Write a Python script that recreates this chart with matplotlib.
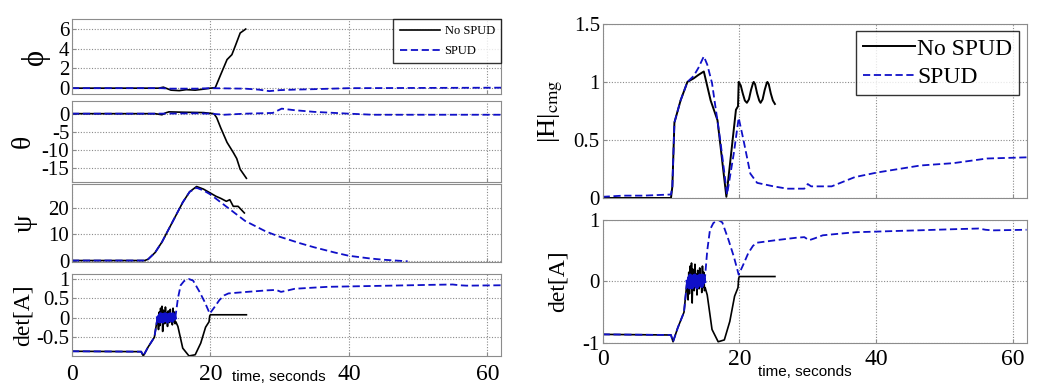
"""Attitude, CMG momentum and det[A] histories with and without SPUD."""

import matplotlib

matplotlib.use("Agg")

import matplotlib.pyplot as plt
from matplotlib.ticker import FuncFormatter

plt.rcParams["font.family"] = ["Liberation Serif", "DejaVu Serif"]
plt.rcParams["mathtext.fontset"] = "stix"
plt.rcParams["axes.unicode_minus"] = False

BLUE = "#1010c8"
GRID = "#8a8a8a"
SPINE = "#8c8c8c"
DASH = (0, (4, 2))

# ---- roll angle phi
T_PHI_NS = [0, 12.5, 13.2, 14.3, 15.5, 16.5, 17.8, 19.0, 20.0, 20.7, 21.5, 22.4, 23.1, 23.6, 24.3, 25.1]
PHI_NS = [0, 0, 0.1, -0.2, -0.25, -0.15, -0.2, -0.1, 0, 0.05, 1.4, 2.9, 3.4, 4.3, 5.6, 6.0]
T_PHI_S = [0, 13, 14, 18, 20, 25, 27, 28.5, 30, 32, 35, 40, 62]
PHI_S = [0, 0, -0.05, -0.05, 0, -0.05, -0.15, -0.3, -0.2, -0.15, -0.1, 0, 0.05]

# ---- pitch angle theta
T_TH_NS = [0, 12.0, 13.0, 13.5, 14.0, 16.0, 19.0, 20.5, 20.9, 21.5, 22.4, 23.3, 23.8, 24.3, 25.2]
TH_NS = [0, 0, -0.3, 0.2, 0.5, 0.4, 0.3, 0, -1.1, -4, -8, -10.8, -12.5, -15.5, -18]
T_TH_S = [0, 12, 18, 20, 22, 25, 29, 30.3, 32, 35, 40, 43.5, 62]
TH_S = [0, 0, 0.1, 0, -0.3, 0, 0.2, 1.4, 1.0, 0.5, 0, -0.3, -0.3]

# ---- yaw angle psi
T_PSI_NS = [0, 10.5, 11, 12, 13, 14, 15, 16, 17, 18, 19, 20, 20.8, 21.5, 22.3, 22.8, 23.3, 24.0, 24.9]
PSI_NS = [0, 0, 0.5, 3, 7, 12, 17, 22, 26, 28, 27, 25.5, 24.3, 23.5, 22.4, 23, 20.5, 20.5, 18]
T_PSI_S = [0, 10.5, 11, 12, 13, 14, 15, 16, 17, 18, 19, 20, 22, 25, 28, 30, 33, 35, 38, 40, 43, 45, 48.5]
PSI_S = [0, 0, 0.5, 3, 7, 12, 17, 22, 26, 27.5, 26.5, 25, 21, 15, 11, 9, 6.5, 5, 3, 1.8, 0.8, 0.3, -0.3]

# ---- det[A] (shared by both det panels)
T_DET_PRE = [0, 10.0, 10.3, 11.0, 11.9, 12.3]
DET_PRE = [-0.86, -0.87, -0.98, -0.75, -0.5, -0.05]
T_DET_NOISE = [12.4, 12.5, 12.6, 12.7, 12.8, 12.9, 13.0, 13.1, 13.2, 13.3, 13.4, 13.5, 13.6,
               13.7, 13.8, 13.9, 14.0, 14.1, 14.2, 14.3, 14.4, 14.5, 14.6, 14.7, 14.8, 14.9]
DET_NOISE_NS = [0.0, -0.3, 0.15, -0.2, 0.25, -0.1, 0.3, -0.35, 0.2, 0.1, -0.15, 0.28, -0.05,
                0.12, -0.22, 0.18, 0.0, -0.12, 0.22, -0.08, 0.1, -0.18, 0.25, -0.1, 0.15, -0.15]
DET_NOISE_S = [0.0, -0.08, 0.06, -0.1, 0.1, -0.05, 0.08, -0.1, 0.05, 0.09, -0.07, 0.1, -0.04,
               0.06, -0.1, 0.08, 0.0, -0.06, 0.1, -0.05, 0.07, -0.08, 0.1, -0.03, 0.06, 0.0]
T_DET_S_POST = [15.0, 15.3, 15.7, 16.2, 16.9, 17.5, 18.4, 19.2, 19.9, 20.6, 21.3, 22.0, 22.6, 25.3,
                28.3, 29.5, 30.2, 31.0, 32.2, 35, 37, 40, 42.9, 46, 51.6, 55, 56, 57, 62]
DET_S_POST = [0.1, 0.5, 0.84, 0.95, 1.0, 0.96, 0.68, 0.4, 0.11, 0.28, 0.46, 0.58, 0.63, 0.67,
              0.71, 0.72, 0.67, 0.7, 0.75, 0.78, 0.8, 0.81, 0.82, 0.83, 0.85, 0.86, 0.84, 0.83, 0.84]
T_DET_NS_POST = [15.0, 15.3, 16.0, 16.9, 17.8, 18.6, 19.3, 19.8, 19.9, 20.0, 25.2]
DET_NS_POST = [-0.1, -0.22, -0.78, -0.98, -0.95, -0.65, -0.24, -0.1, 0.05, 0.08, 0.08]

# ---- |H|cmg
T_H_NS = [0, 10, 10.2, 10.5, 11.4, 12.4, 13.3, 14.0, 14.8, 15.8, 16.8, 18.1, 19.5, 19.8, 19.9,
          20.2, 20.5, 20.8, 21.1, 21.4, 21.7, 22.0, 22.1, 22.3, 22.6, 22.9, 23.1, 23.4, 23.7,
          24.0, 24.1, 24.3, 24.6, 24.9, 25.2]
H_NS = [0.0, 0.0, 0.1, 0.65, 0.84, 1.0, 1.03, 1.06, 1.09, 0.84, 0.67, 0.01, 0.76, 0.79, 1.0,
        0.97, 0.9, 0.84, 0.82, 0.85, 0.93, 0.99, 1.0, 0.98, 0.9, 0.84, 0.82, 0.85, 0.93,
        0.99, 1.0, 0.98, 0.9, 0.84, 0.81]
T_H_S = [0, 3, 6, 10, 10.2, 10.5, 11.4, 12.4, 13.3, 14.0, 14.8, 15.3, 16.0, 17.2, 18.2, 19.2,
         19.9, 20.6, 21.6, 22.6, 25, 27, 29.5, 30, 30.5, 33.5, 36.9, 40.2, 46.5, 51.3, 56.2, 62]
H_S = [0.01, 0.02, 0.02, 0.03, 0.1, 0.65, 0.84, 1.0, 1.05, 1.12, 1.22, 1.15, 0.99, 0.5, 0.03,
       0.39, 0.69, 0.5, 0.21, 0.13, 0.1, 0.08, 0.08, 0.12, 0.1, 0.1, 0.18, 0.22, 0.28, 0.3, 0.34, 0.35]

X_TICKS = [0, 20, 40, 60]
MATLAB_FMT = FuncFormatter(lambda v, _: f"{v:g}")


def style_axis(ax, yticks, ylim, show_x):
    ax.set_xlim(0, 62)
    ax.set_ylim(*ylim)
    ax.set_xticks(X_TICKS)
    ax.set_yticks(yticks)
    ax.yaxis.set_major_formatter(MATLAB_FMT)
    ax.grid(True, linestyle=(0, (1, 1.5)), color=GRID, linewidth=0.8)
    ax.tick_params(direction="in", length=3, color=SPINE, labelsize=15, pad=2)
    if not show_x:
        ax.tick_params(labelbottom=False)
    for spine in ax.spines.values():
        spine.set_color(SPINE)


def plot_pair(ax, t_ns, y_ns, t_s, y_s, lw_ns=1.2):
    ax.plot(t_ns, y_ns, color="black", linewidth=lw_ns, label="No SPUD")
    ax.plot(t_s, y_s, color=BLUE, linewidth=1.3, linestyle=DASH, label="SPUD")


def plot_det(ax):
    ax.plot(T_DET_PRE + T_DET_NOISE + T_DET_NS_POST, DET_PRE + DET_NOISE_NS + DET_NS_POST,
            color="black", linewidth=1.2)
    ax.plot(T_DET_PRE + T_DET_NOISE, DET_PRE + DET_NOISE_S, color=BLUE, linewidth=1.3,
            linestyle=DASH)
    ax.plot(T_DET_NOISE, DET_NOISE_S, color=BLUE, linewidth=2.5)
    ax.plot([T_DET_NOISE[-1]] + T_DET_S_POST, [DET_NOISE_S[-1]] + DET_S_POST, color=BLUE,
            linewidth=1.3, linestyle=DASH)


fig = plt.figure(figsize=(10.39, 3.92), dpi=100, facecolor="white")

lx, lw = 0.0693, 0.413
ax_phi = fig.add_axes([lx, 0.760, lw, 0.191])
ax_th = fig.add_axes([lx, 0.536, lw, 0.207])
ax_psi = fig.add_axes([lx, 0.332, lw, 0.199])
ax_det_l = fig.add_axes([lx, 0.092, lw, 0.209])

rx, rw = 0.580, 0.408
ax_h = fig.add_axes([rx, 0.495, rw, 0.444])
ax_det_r = fig.add_axes([rx, 0.125, rw, 0.314])

plot_pair(ax_phi, T_PHI_NS, PHI_NS, T_PHI_S, PHI_S)
style_axis(ax_phi, [0, 2, 4, 6], (-0.6, 7.0), False)
ax_phi.set_ylabel("ϕ", fontsize=22, labelpad=6)
ax_phi.legend(loc="upper right", fontsize=9, frameon=True, fancybox=False, edgecolor="black",
              borderaxespad=0.0, handlelength=3.2, handletextpad=0.4, borderpad=0.5,
              labelspacing=0.6)

plot_pair(ax_th, T_TH_NS, TH_NS, T_TH_S, TH_S)
style_axis(ax_th, [-15, -10, -5, 0], (-19, 3.6), False)
ax_th.set_ylabel("θ", fontsize=20, labelpad=4)

plot_pair(ax_psi, T_PSI_NS, PSI_NS, T_PSI_S, PSI_S)
style_axis(ax_psi, [0, 10, 20], (-0.5, 29), False)
ax_psi.set_ylabel("ψ", fontsize=20, labelpad=8)

plot_det(ax_det_l)
style_axis(ax_det_l, [-0.5, 0, 0.5, 1], (-0.98, 1.13), True)
ax_det_l.set_ylabel("det[A]", fontsize=17, labelpad=2)
ax_det_l.tick_params(axis="x", labelsize=17, pad=6)

plot_pair(ax_h, T_H_NS, H_NS, T_H_S, H_S, lw_ns=1.4)
style_axis(ax_h, [0, 0.5, 1, 1.5], (0, 1.5), False)
ax_h.set_ylabel(r"|H|$_{\mathrm{cmg}}$", fontsize=19, labelpad=6)
ax_h.legend(loc="upper right", fontsize=17, frameon=True, fancybox=False, edgecolor="black",
            borderaxespad=0.3, handlelength=2.2, handletextpad=0.1, borderpad=0.3,
            labelspacing=0.3)

plot_det(ax_det_r)
style_axis(ax_det_r, [-1, 0, 1], (-1, 1), True)
ax_det_r.set_ylabel("det[A]", fontsize=17, labelpad=10)
ax_det_r.tick_params(axis="x", labelsize=17, pad=4)

fig.text(0.268, 0.037, "time, seconds", fontsize=11, family="Liberation Sans", ha="center",
         va="center")
fig.text(0.775, 0.051, "time, seconds", fontsize=11, family="Liberation Sans", ha="center",
         va="center")

fig.savefig("out.png", dpi=100, facecolor="white")
plt.close(fig)
